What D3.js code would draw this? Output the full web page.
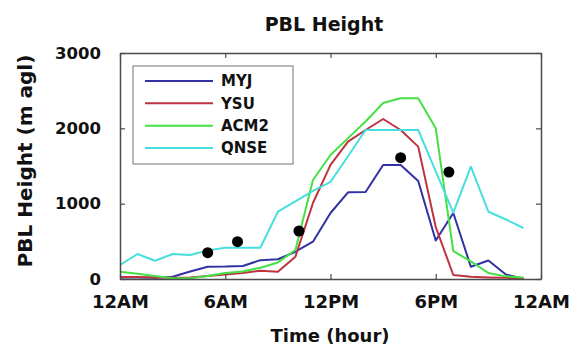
<!DOCTYPE html>
<html>
<head>
<meta charset="utf-8">
<script src="https://cdn.jsdelivr.net/npm/d3@7"></script>
<style>
  html, body { margin: 0; padding: 0; background: #fff; }
  svg { display: block; font-family: "DejaVu Sans", sans-serif; font-weight: bold; }
</style>
</head>
<body>
<svg id="chart" width="570" height="347"></svg>
<script>
// Hourly PBL height (m agl) for each scheme, hours 0..23
const hours = d3.range(0, 24);
const seriesNames = ["MYJ", "YSU", "ACM2", "QNSE"];
const seriesColors = ["#3131a4", "#be3340", "#44e044", "#48dede"];
const myj  = [20, 20, 15, 30, 100, 163, 165, 173, 250, 262, 362, 495, 876, 1150, 1155, 1514, 1514, 1300, 510, 876, 163, 245, 60, 5];
const ysu  = [25, 25, 20, 15, 20, 40, 60, 80, 110, 97, 296, 1009, 1514, 1823, 1978, 2124, 1978, 1757, 690, 53, 30, 20, 15, 10];
const acm2 = [97, 70, 40, 10, 10, 40, 80, 100, 150, 220, 385, 1314, 1646, 1870, 2090, 2336, 2400, 2400, 2000, 370, 235, 80, 35, 20];
const qnse = [186, 332, 243, 332, 319, 380, 415, 415, 415, 893, 1030, 1170, 1290, 1630, 1978, 1978, 1978, 1978, 1430, 880, 1491, 893, 790, 677];
const seriesValues = [myj, ysu, acm2, qnse];

// Observed PBL heights (sounding times in hours)
const obsHours  = [5.0, 6.7, 10.2, 16.0, 18.75];
const obsValues = [350, 495, 637, 1610, 1420];

// Axis ticks
const xTickValues = [0, 6, 12, 18, 24];
const xTickLabels = ["12AM", "6AM", "12PM", "6PM", "12AM"];
const yTickValues = [0, 1000, 2000, 3000];

const svg = d3.select("#chart");
const m = { left: 120, right: 541, top: 53, bottom: 279 };

const x = d3.scaleLinear().domain([0, 24]).range([m.left, m.right]);
const y = d3.scaleLinear().domain([0, 3000]).range([m.bottom, m.top]);

const frameColor = "#4a4a4a";

// Title
svg.append("text")
  .attr("x", 324).attr("y", 31)
  .attr("text-anchor", "middle")
  .attr("font-size", 19)
  .attr("fill", "#111")
  .text("PBL Height");

// Series lines
const line = d3.line().x((d, i) => x(hours[i])).y(d => y(d));
const plot = svg.append("g");
seriesValues.forEach((vals, k) => {
  plot.append("path")
    .datum(vals)
    .attr("d", line)
    .attr("fill", "none")
    .attr("stroke", seriesColors[k])
    .attr("stroke-width", 2)
    .attr("stroke-linejoin", "round");
});

// Observations
plot.selectAll("circle.obs")
  .data(obsHours)
  .join("circle")
  .attr("class", "obs")
  .attr("cx", d => x(d))
  .attr("cy", (d, i) => y(obsValues[i]))
  .attr("r", 5.5)
  .attr("fill", "#000");

// Axes with inward ticks on all four sides
const tickLen = 5;
const axBottom = d3.axisBottom(x).tickValues(xTickValues).tickSizeInner(-tickLen).tickSizeOuter(0)
  .tickFormat((d, i) => xTickLabels[i]).tickPadding(16);
const axTop = d3.axisTop(x).tickValues(xTickValues).tickSizeInner(-tickLen).tickSizeOuter(0).tickFormat("");
const axLeft = d3.axisLeft(y).tickValues(yTickValues).tickSizeInner(-tickLen).tickSizeOuter(0)
  .tickFormat(d3.format("d")).tickPadding(19);
const axRight = d3.axisRight(y).tickValues(yTickValues).tickSizeInner(-tickLen).tickSizeOuter(0).tickFormat("");

function styleAxis(g, size) {
  g.select(".domain").attr("stroke", frameColor).attr("stroke-width", 1.5);
  g.selectAll(".tick line").attr("stroke", frameColor).attr("stroke-width", 1.2);
  g.selectAll(".tick text")
    .attr("fill", "#111")
    .attr("font-family", "DejaVu Sans, sans-serif")
    .attr("font-weight", "bold")
    .attr("font-size", size);
}

svg.append("g").attr("transform", `translate(0,${m.bottom})`).call(axBottom).call(g => styleAxis(g, 18));
svg.append("g").attr("transform", `translate(0,${m.top})`).call(axTop).call(g => styleAxis(g, 18));
svg.append("g").attr("transform", `translate(${m.left},0)`).call(axLeft).call(g => styleAxis(g, 16.5));
svg.append("g").attr("transform", `translate(${m.right},0)`).call(axRight).call(g => styleAxis(g, 16.5));

// Axis titles
svg.append("text")
  .attr("x", 330).attr("y", 342)
  .attr("text-anchor", "middle")
  .attr("font-size", 18)
  .attr("fill", "#111")
  .text("Time (hour)");

svg.append("text")
  .attr("transform", "translate(32,161) rotate(-90)")
  .attr("text-anchor", "middle")
  .attr("font-size", 20)
  .attr("fill", "#111")
  .text("PBL Height (m agl)");

// Legend
const legend = svg.append("g");
legend.append("rect")
  .attr("x", 133).attr("y", 66)
  .attr("width", 160).attr("height", 98)
  .attr("fill", "#fff")
  .attr("stroke", "#8a8a8a")
  .attr("stroke-width", 1.2);
const rowY = d3.scalePoint().domain(seriesNames).range([81, 148]);
seriesNames.forEach((name, k) => {
  const yy = rowY(name);
  legend.append("line")
    .attr("x1", 145).attr("x2", 213)
    .attr("y1", yy).attr("y2", yy)
    .attr("stroke", seriesColors[k])
    .attr("stroke-width", 2);
  legend.append("text")
    .attr("x", 221).attr("y", yy)
    .attr("dy", "0.36em")
    .attr("font-size", 15)
    .attr("fill", "#111")
    .text(name);
});
</script>
</body>
</html>
